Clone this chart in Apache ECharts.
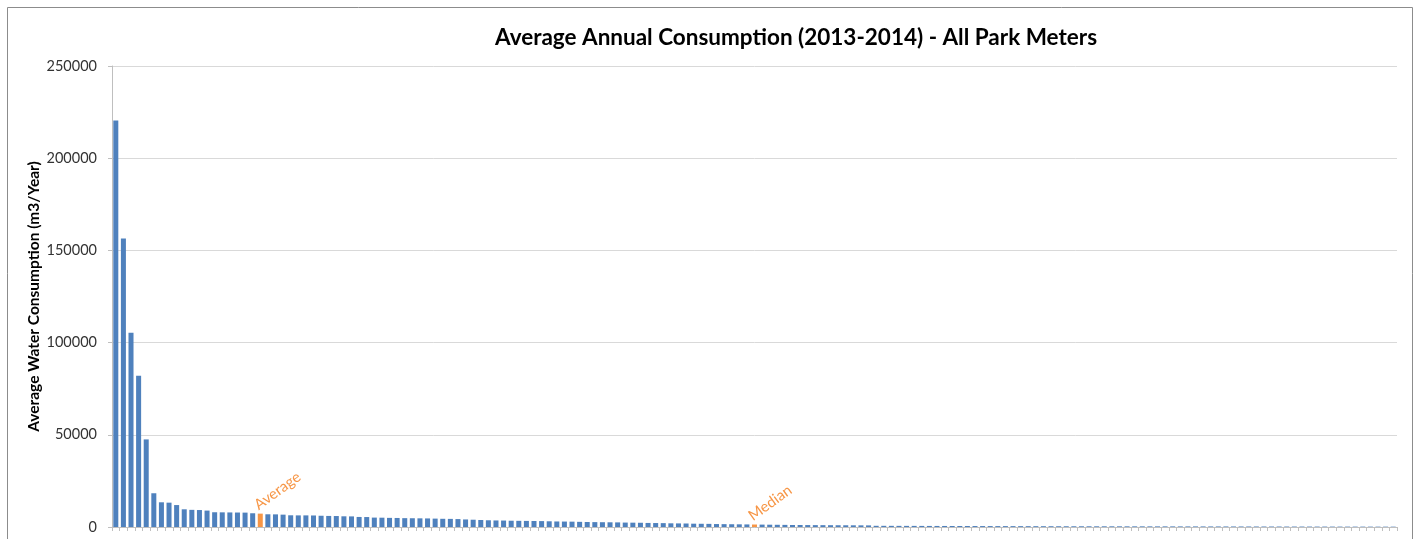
<!DOCTYPE html>
<html>
<head>
<meta charset="utf-8">
<script src="https://cdn.jsdelivr.net/npm/echarts@6/dist/echarts.min.js"></script>
<style>
  html, body { margin: 0; padding: 0; background: #fff; }
  #chart { width: 1417px; height: 539px; }
</style>
</head>
<body>
<div id="chart"></div>
<script>
// Average annual water consumption per park meter, sorted high to low
const consumption = [
  220500, 156500, 105400, 82000, 47500, 18300, 13400, 13200, 11900, 9600,
  9300, 9200, 8900, 8000, 7950, 7900, 7850, 7800, 7450, 7250,
  6900, 6850, 6700, 6350, 6300, 6300, 6250, 6100, 6000, 5950,
  5800, 5750, 5450, 5400, 5100, 5050, 4950, 4900, 4800, 4750,
  4700, 4650, 4550, 4450, 4400, 4300, 4100, 3950, 3800, 3650,
  3550, 3500, 3400, 3350, 3300, 3250, 3200, 3100, 3000, 2950,
  2900, 2800, 2700, 2650, 2600, 2550, 2500, 2400, 2350, 2300,
  2200, 2150, 2100, 2000, 1950, 1900, 1800, 1750, 1700, 1600,
  1550, 1500, 1450, 1400, 1350, 1300, 1250, 1200, 1150, 1100,
  1080, 1050, 1020, 1000, 980, 960, 940, 920, 900, 880,
  650, 640, 630, 620, 610, 600, 590, 580, 570, 560,
  550, 540, 530, 520, 510, 500, 490, 480, 470, 460,
  450, 440, 430, 420, 410, 400, 395, 390, 385, 380,
  375, 370, 365, 360, 355, 350, 345, 340, 335, 330,
  325, 320, 315, 310, 305, 300, 295, 290, 285, 280,
  275, 270, 265, 260, 255, 250, 245, 240, 235, 230,
  225, 220, 215, 210, 205, 200, 195, 190, 185
];
const meters = consumption.map((_, i) => 'Meter ' + (i + 1));
const highlights = [
  { index: 19, text: 'Average' },
  { index: 84, text: 'Median' }
];
const yTicks = [0, 50000, 100000, 150000, 200000, 250000];

const BLUE = '#4f81bd';
const ORANGE = '#f79646';

const barData = consumption.map((v, i) => {
  const h = highlights.find(m => m.index === i);
  if (!h) return v;
  return {
    value: v,
    itemStyle: { color: ORANGE },
    label: {
      show: true,
      formatter: h.text,
      position: 'top',
      distance: 1,
      rotate: 36,
      align: 'left',
      verticalAlign: 'bottom',
      color: ORANGE,
      fontFamily: 'Lato',
      fontSize: 15
    }
  };
});

const chart = echarts.init(document.getElementById('chart'), null, { renderer: 'canvas' });
chart.setOption({
  animation: false,
  backgroundColor: '#ffffff',
  title: {
    text: 'Average Annual Consumption (2013-2014) - All Park Meters',
    left: 791,
    textAlign: 'center',
    top: 21,
    textStyle: { fontFamily: 'Lato', fontWeight: 'bold', fontSize: 22.5, color: '#000' }
  },
  graphic: [{
    type: 'rect',
    silent: true,
    shape: { x: 7.5, y: 7.5, width: 1405, height: 545 },
    style: { fill: 'none', stroke: '#8c8c8c', lineWidth: 1 }
  }],
  grid: { left: 112, right: 20, top: 66, bottom: 12, containLabel: false },
  xAxis: {
    type: 'category',
    data: meters,
    boundaryGap: true,
    axisLine: { show: true, lineStyle: { color: '#bfbfbf', width: 1 } },
    axisTick: { show: true, interval: 0, length: 4, lineStyle: { color: '#bfbfbf' } },
    axisLabel: { show: false },
    splitLine: { show: false }
  },
  yAxis: {
    type: 'value',
    min: yTicks[0],
    max: yTicks[yTicks.length - 1],
    interval: yTicks[1] - yTicks[0],
    name: 'Average Water Consumption (m3/Year)',
    nameLocation: 'middle',
    nameGap: 70,
    nameMoveOverlap: false,
    nameRotate: 90,
    nameTextStyle: { fontFamily: 'Lato', fontWeight: 'bold', fontSize: 15.5, color: '#000' },
    axisLine: { show: true, lineStyle: { color: '#bfbfbf', width: 1 } },
    axisTick: { show: true, length: 4, inside: false, lineStyle: { color: '#bfbfbf' } },
    axisLabel: {
      margin: 15, fontFamily: 'Lato', fontSize: 14.5, color: '#333',
      formatter: v => String(v)
    },
    splitLine: { show: true, lineStyle: { color: '#d9d9d9', width: 1 } }
  },
  series: [{
    type: 'bar',
    data: barData,
    barWidth: '66%',
    itemStyle: { color: BLUE },
    labelLayout: { hideOverlap: false }
  }]
});
</script>
</body>
</html>
